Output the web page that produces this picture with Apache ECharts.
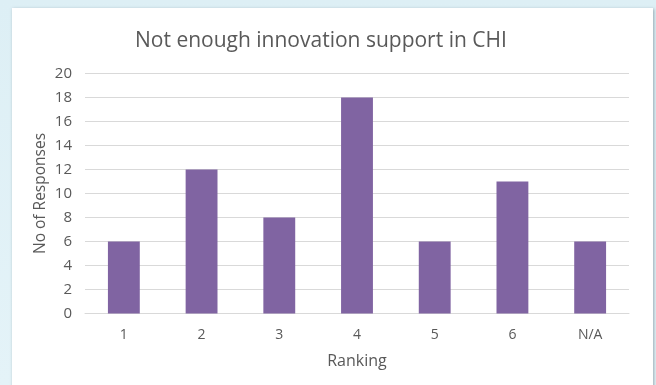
<!DOCTYPE html>
<html>
<head>
<meta charset="utf-8">
<script src="https://cdn.jsdelivr.net/npm/echarts@6/dist/echarts.min.js"></script>
<style>
  html, body { margin: 0; padding: 0; width: 656px; height: 385px; overflow: hidden;
    background: linear-gradient(#ddeff5, #e4f3f8); }
  #panel { position: absolute; left: 12px; top: 8px; width: 641px; height: 380px;
    background: #ffffff; box-shadow: 1px 1px 3px rgba(90, 110, 120, 0.55); }
  #chart { position: absolute; left: 0; top: 0; width: 641px; height: 377px; }
</style>
</head>
<body>
<div id="panel"><div id="chart"></div></div>
<script>
const categories = ['1', '2', '3', '4', '5', '6', 'N/A'];
const responses = [6, 12, 8, 18, 6, 11, 6];
const yTicks = [0, 2, 4, 6, 8, 10, 12, 14, 16, 18, 20];

const textColor = '#595959';
const font = '"Open Sans", "Noto Sans", sans-serif';

const chart = echarts.init(document.getElementById('chart'));
chart.setOption({
  animation: false,
  title: {
    text: 'Not enough innovation support in CHI',
    left: 118,
    top: 18,
    textStyle: { color: textColor, fontSize: 21, fontWeight: 'normal', fontFamily: font }
  },
  grid: { left: 73, right: 24, top: 65.5, bottom: 71.5 },
  xAxis: {
    type: 'category',
    data: categories,
    name: 'Ranking',
    nameLocation: 'middle',
    nameGap: 40,
    nameTextStyle: { color: textColor, fontSize: 16, fontFamily: font },
    axisLine: { show: true, lineStyle: { color: '#d9d9d9', width: 1 } },
    axisTick: { show: false },
    axisLabel: { color: textColor, fontSize: 14, fontFamily: font, margin: 15 }
  },
  yAxis: {
    type: 'value',
    min: yTicks[0],
    max: yTicks[yTicks.length - 1],
    interval: 2,
    name: 'No of Responses',
    nameLocation: 'middle',
    nameGap: 36,
    nameMoveOverlap: false,
    nameTextStyle: { color: textColor, fontSize: 15.5, fontFamily: font },
    axisLine: { show: false },
    axisTick: { show: false },
    axisLabel: { color: textColor, fontSize: 15, fontFamily: font, margin: 13 },
    splitLine: { lineStyle: { color: '#d9d9d9', width: 1 } }
  },
  series: [{
    type: 'bar',
    data: responses,
    barWidth: '41%',
    itemStyle: { color: '#8064a2' }
  }]
});
</script>
</body>
</html>
